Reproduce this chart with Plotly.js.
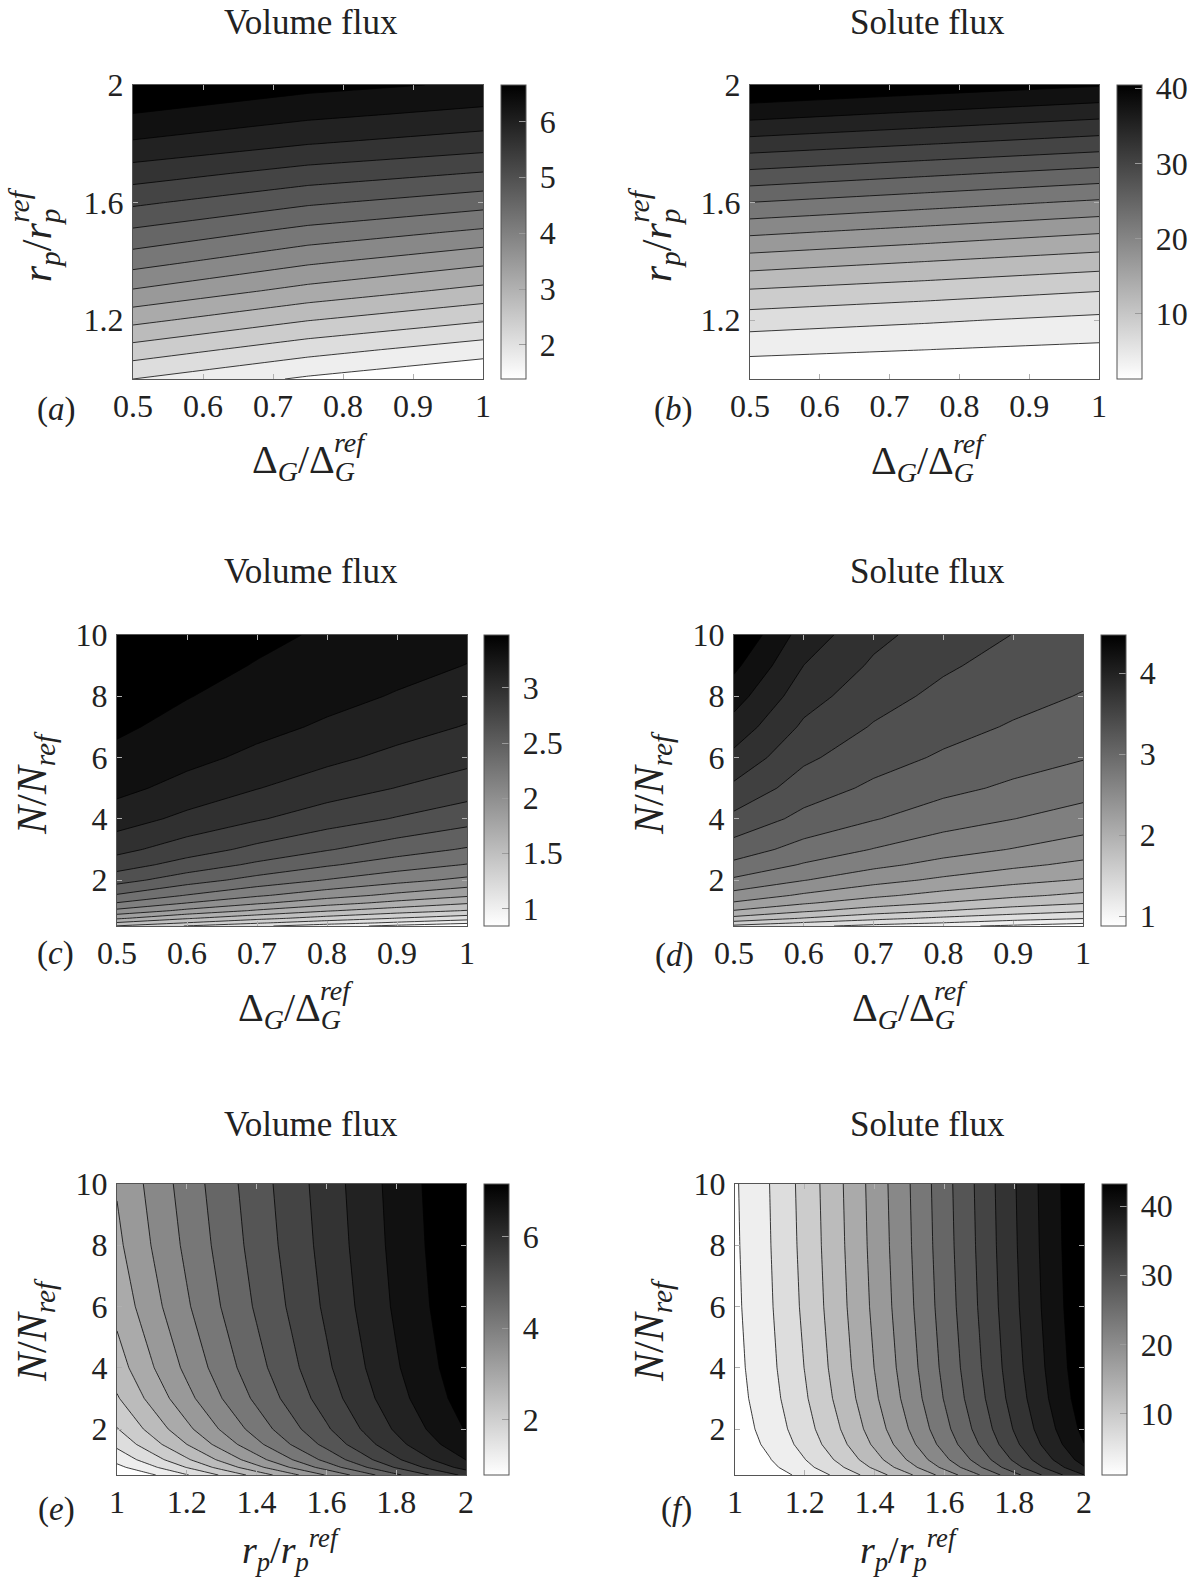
<!DOCTYPE html>
<html>
<head>
<meta charset="utf-8">
<script src="https://cdn.plot.ly/plotly-3.0.1.min.js"></script>
<style>
html,body{margin:0;padding:0;background:#fff;}
#chart{width:1199px;height:1580px;}
</style>
</head>
<body>
<div id="chart"></div>
<script>
// ---------------- DATA (values estimated from the reference figure) ----------------
// (a) Volume flux, (b) Solute flux : x = Delta_G/Delta_G^ref, y = r_p/r_p^ref
const dgAB = [0.5, 0.75, 1.0];
const rpAB = [1.0, 1.1, 1.2, 1.3, 1.4, 1.5, 1.6, 1.7, 1.8, 1.9, 2.0];
const volA = [
  [2.04, 1.66, 1.38],
  [2.57, 2.17, 1.86],
  [3.12, 2.71, 2.40],
  [3.66, 3.25, 2.93],
  [4.16, 3.75, 3.44],
  [4.62, 4.24, 3.96],
  [5.07, 4.73, 4.48],
  [5.51, 5.21, 4.99],
  [5.95, 5.68, 5.49],
  [6.32, 6.08, 5.90],
  [6.65, 6.43, 6.28]
];
const solB = [
  [1.9, 1.65, 1.4],
  [4.44, 3.86, 3.28],
  [7.47, 6.58, 5.68],
  [10.94, 9.87, 8.79],
  [14.88, 13.62, 12.36],
  [19.0, 17.63, 16.25],
  [23.32, 21.9, 20.49],
  [27.7, 26.3, 24.9],
  [32.07, 30.78, 29.48],
  [36.41, 35.1, 33.8],
  [40.6, 39.4, 38.2]
];
// (c) Volume flux, (d) Solute flux : x = Delta_G/Delta_G^ref, y = N/N_ref
const dgCD = [0.5, 0.6, 0.7, 0.8, 0.9, 1.0];
const nCD = [0.5, 0.6, 0.75, 1, 1.25, 1.5, 2, 2.5, 3, 4, 5, 6, 7, 8, 9, 10];
const volC = [
  [1.432, 1.278, 1.157, 1.042, 0.93, 0.82],
  [1.576, 1.432, 1.302, 1.195, 1.100, 1.005],
  [1.774, 1.609, 1.486, 1.377, 1.278, 1.195],
  [2.023, 1.867, 1.731, 1.609, 1.515, 1.432],
  [2.208, 2.058, 1.927, 1.810, 1.705, 1.609],
  [2.355, 2.208, 2.081, 1.969, 1.867, 1.774],
  [2.586, 2.440, 2.316, 2.208, 2.111, 2.023],
  [2.754, 2.618, 2.496, 2.388, 2.293, 2.208],
  [2.881, 2.754, 2.640, 2.536, 2.440, 2.355],
  [3.067, 2.950, 2.849, 2.754, 2.669, 2.586],
  [3.187, 3.093, 2.995, 2.908, 2.831, 2.754],
  [3.263, 3.187, 3.111, 3.026, 2.950, 2.881],
  [3.325, 3.252, 3.187, 3.125, 3.049, 2.981],
  [3.376, 3.306, 3.243, 3.187, 3.135, 3.067],
  [3.42, 3.351, 3.292, 3.236, 3.187, 3.142],
  [3.46, 3.391, 3.333, 3.281, 3.231, 3.187]
];
const solD = [
  [1.44, 1.325, 1.212, 1.108, 1.023, 0.92],
  [1.624, 1.466, 1.360, 1.271, 1.171, 1.090],
  [1.849, 1.69, 1.548, 1.445, 1.359, 1.286],
  [2.118, 1.953, 1.815, 1.707, 1.602, 1.521],
  [2.317, 2.151, 2.013, 1.905, 1.799, 1.715],
  [2.475, 2.309, 2.171, 2.056, 1.958, 1.871],
  [2.733, 2.562, 2.416, 2.30, 2.198, 2.113],
  [2.931, 2.749, 2.606, 2.489, 2.386, 2.295],
  [3.093, 2.899, 2.759, 2.637, 2.545, 2.445],
  [3.35, 3.133, 2.993, 2.866, 2.77, 2.676],
  [3.573, 3.301, 3.153, 3.036, 2.943, 2.849],
  [3.775, 3.447, 3.278, 3.166, 3.066, 2.993],
  [3.960, 3.582, 3.389, 3.264, 3.175, 3.087],
  [4.137, 3.708, 3.489, 3.352, 3.255, 3.182],
  [4.306, 3.830, 3.586, 3.436, 3.328, 3.248],
  [4.47, 3.949, 3.677, 3.512, 3.402, 3.312]
];
// (e) Volume flux, (f) Solute flux : x = r_p/r_p^ref, y = N/N_ref
const rpEF = [1.0, 1.1, 1.2, 1.3, 1.4, 1.5, 1.6, 1.7, 1.8, 1.9, 2.0];
const nEF = [0.5, 0.75, 1, 1.5, 2, 3, 4, 6, 8, 10];
const volE = [
  [0.801, 1.150, 1.566, 2.033, 2.538, 3.063, 3.600, 4.147, 4.685, 5.189, 5.656],
  [1.087, 1.516, 2.003, 2.525, 3.064, 3.605, 4.141, 4.677, 5.193, 5.666, 6.101],
  [1.324, 1.803, 2.328, 2.872, 3.419, 3.955, 4.478, 4.995, 5.490, 5.939, 6.351],
  [1.692, 2.225, 2.779, 3.330, 3.867, 4.381, 4.875, 5.360, 5.824, 6.240, 6.622],
  [1.966, 2.519, 3.077, 3.619, 4.137, 4.630, 5.101, 5.564, 6.006, 6.402, 6.766],
  [2.344, 2.903, 3.447, 3.963, 4.449, 4.909, 5.349, 5.784, 6.200, 6.573, 6.917],
  [2.594, 3.142, 3.667, 4.160, 4.623, 5.061, 5.482, 5.900, 6.302, 6.662, 6.995],
  [2.903, 3.425, 3.917, 4.378, 4.812, 5.223, 5.622, 6.021, 6.408, 6.753, 7.075],
  [3.087, 3.586, 4.056, 4.496, 4.911, 5.308, 5.695, 6.084, 6.461, 6.799, 7.115],
  [3.21, 3.69, 4.144, 4.57, 4.973, 5.361, 5.74, 6.122, 6.494, 6.828, 7.14]
];
const solF = [
  [1.079, 2.444, 4.468, 7.107, 10.297, 13.872, 17.872, 22.075, 26.561, 30.972, 35.283],
  [1.420, 3.120, 5.538, 8.569, 12.105, 15.949, 20.153, 24.478, 29.033, 33.444, 37.709],
  [1.687, 3.621, 6.291, 9.551, 13.270, 17.239, 21.525, 25.886, 30.449, 34.836, 39.051],
  [2.077, 4.313, 7.281, 10.787, 14.684, 18.758, 23.099, 27.470, 32.011, 36.345, 40.490],
  [2.348, 4.769, 7.903, 11.533, 15.510, 19.621, 23.976, 28.333, 32.853, 37.152, 41.250],
  [2.701, 5.333, 8.640, 12.391, 16.434, 20.570, 24.923, 29.256, 33.741, 37.996, 42.041],
  [2.920, 5.668, 9.064, 12.869, 16.940, 21.078, 25.424, 29.738, 34.205, 38.430, 42.448],
  [3.178, 6.048, 9.531, 13.386, 17.475, 21.613, 25.946, 30.239, 34.679, 38.876, 42.864],
  [3.325, 6.258, 9.783, 13.660, 17.757, 21.890, 26.216, 30.495, 34.922, 39.103, 43.073],
  [3.42, 6.39, 9.94, 13.83, 17.93, 22.06, 26.38, 30.65, 35.07, 39.24, 43.2]
];
// contour levels [start, end, step] and colour-bar ranges
const levA = [1.71, 6.33, 0.33],   cbRangeA = [1.39, 6.65];
const levB = [3.84, 38.0, 2.44],   cbRangeB = [1.36, 40.4];
const levC = [0.975, 3.30, 0.155], cbRangeC = [0.84, 3.48];
const levD = [1.063, 4.258, 0.213], cbRangeD = [0.88, 4.47];
const levE = [1.196, 6.744, 0.396], cbRangeE = [0.80, 7.14];
const levF = [3.73, 40.55, 2.63],  cbRangeF = [1.10, 43.2];
// tick labels
const dgTicks = [0.5, 0.6, 0.7, 0.8, 0.9, 1];
const dgTickText = ['0.5', '0.6', '0.7', '0.8', '0.9', '1'];
const rpTicksY = [1.2, 1.6, 2];
const rpTicksYText = ['1.2', '1.6', '2'];
const nTicks = [2, 4, 6, 8, 10];
const nTickText = ['2', '4', '6', '8', '10'];
const rpTicksX = [1, 1.2, 1.4, 1.6, 1.8, 2];
const rpTicksXText = ['1', '1.2', '1.4', '1.6', '1.8', '2'];
const cbTicksA = [2, 3, 4, 5, 6];
const cbTicksB = [10, 20, 30, 40];
const cbTicksC = [1, 1.5, 2, 2.5, 3];
const cbTicksD = [1, 2, 3, 4];
const cbTicksE = [2, 4, 6];
const cbTicksF = [10, 20, 30, 40];

// ---------------- LAYOUT / STYLE ----------------
const FONT = 'Liberation Serif, Times New Roman, serif';
const W0 = 1199, H0 = 1580;
const px = v => v / W0, py = v => 1 - v / H0;
const greys = [[0, '#ffffff'], [1, '#000000']];

const panels = [
  {x: dgAB, y: rpAB, z: volA, lev: levA, cr: cbRangeA, ct: cbTicksA, xt: dgTicks, xtt: dgTickText, yt: rpTicksY, ytt: rpTicksYText, xr: [0.5, 1], yr: [1, 2], box: [133, 483, 85, 379], cbx: 501},
  {x: dgAB, y: rpAB, z: solB, lev: levB, cr: cbRangeB, ct: cbTicksB, xt: dgTicks, xtt: dgTickText, yt: rpTicksY, ytt: rpTicksYText, xr: [0.5, 1], yr: [1, 2], box: [750, 1099, 85, 379], cbx: 1117},
  {x: dgCD, y: nCD, z: volC, lev: levC, cr: cbRangeC, ct: cbTicksC, xt: dgTicks, xtt: dgTickText, yt: nTicks, ytt: nTickText, xr: [0.5, 1], yr: [0.5, 10], box: [117, 467, 635, 926], cbx: 484},
  {x: dgCD, y: nCD, z: solD, lev: levD, cr: cbRangeD, ct: cbTicksD, xt: dgTicks, xtt: dgTickText, yt: nTicks, ytt: nTickText, xr: [0.5, 1], yr: [0.5, 10], box: [734, 1083, 635, 926], cbx: 1101},
  {x: rpEF, y: nEF, z: volE, lev: levE, cr: cbRangeE, ct: cbTicksE, xt: rpTicksX, xtt: rpTicksXText, yt: nTicks, ytt: nTickText, xr: [1, 2], yr: [0.5, 10], box: [117, 466, 1184, 1475], cbx: 484},
  {x: rpEF, y: nEF, z: solF, lev: levF, cr: cbRangeF, ct: cbTicksF, xt: rpTicksX, xtt: rpTicksXText, yt: nTicks, ytt: nTickText, xr: [1, 2], yr: [0.5, 10], box: [735, 1084, 1184, 1475], cbx: 1102}
];

const traces = [];
const layout = {
  width: W0, height: H0,
  margin: {l: 0, r: 0, t: 0, b: 0, pad: 0},
  paper_bgcolor: '#ffffff', plot_bgcolor: '#ffffff',
  showlegend: false,
  font: {family: FONT, color: '#222', size: 32},
  annotations: []
};

const axisBase = {
  showline: true, linecolor: '#555', linewidth: 1, mirror: 'ticks',
  ticks: 'inside', ticklen: 5, tickwidth: 1, tickcolor: '#b0b0b0',
  showgrid: false, zeroline: false, tickmode: 'array', fixedrange: true,
  tickfont: {family: FONT, size: 32, color: '#222'}
};

panels.forEach((p, i) => {
  const n = i + 1;
  const xa = n === 1 ? 'x' : 'x' + n, ya = n === 1 ? 'y' : 'y' + n;
  const [x0, x1, y0, y1] = p.box;
  traces.push({
    type: 'heatmap', x: p.x, y: p.y, z: p.z, xaxis: xa, yaxis: ya,
    zmin: p.cr[0], zmax: p.cr[1], colorscale: greys, hoverinfo: 'skip',
    showscale: true,
    colorbar: {
      x: px(p.cbx), xanchor: 'left', xpad: 0, y: py((y0 + y1) / 2), yanchor: 'middle', ypad: 0,
      len: (y1 - y0) / H0, lenmode: 'fraction', thickness: 25, thicknessmode: 'pixels',
      outlinewidth: 1, outlinecolor: '#555', borderwidth: 0,
      tickmode: 'array', tickvals: p.ct, ticktext: p.ct.map(v => '\u2009' + String(v)),
      ticks: 'inside', ticklen: 7, tickwidth: 1, tickcolor: '#9a9a9a',
      tickfont: {family: FONT, size: 32, color: '#222'}
    }
  });
  traces.push({
    type: 'contour', x: p.x, y: p.y, z: p.z, xaxis: xa, yaxis: ya,
    autocontour: false,
    contours: {start: p.lev[0], end: p.lev[1], size: p.lev[2], coloring: 'fill', showlines: true},
    line: {color: 'rgba(0,0,0,0.85)', width: 0.9, smoothing: 0},
    colorscale: greys, showscale: false, hoverinfo: 'skip'
  });
  layout[n === 1 ? 'xaxis' : 'xaxis' + n] = Object.assign({}, axisBase, {
    domain: [px(x0), px(x1)], range: p.xr, tickvals: p.xt, ticktext: p.xtt, anchor: ya,
    ticklabelstandoff: -1
  });
  layout[n === 1 ? 'yaxis' : 'yaxis' + n] = Object.assign({}, axisBase, {
    domain: [py(y1), py(y0)], range: p.yr, tickvals: p.yt, ticktext: p.ytt, anchor: xa,
    ticklabelstandoff: 2
  });
});

// ---------------- TEXT ----------------
const cv = document.createElement('canvas').getContext('2d');
function tw(s, size, italic) {
  cv.font = (italic ? 'italic ' : '') + size + 'px "Liberation Serif"';
  return cv.measureText(s).width;
}
function ann(text, x, y, size, opts) {
  return Object.assign({
    text: text, x: px(x), y: py(y), xref: 'paper', yref: 'paper', showarrow: false,
    font: {family: FONT, size: size, color: '#222'}, xanchor: 'center', yanchor: 'middle', borderpad: 0
  }, opts || {});
}
// "big_sub / big_sub^ref" with the last sub- and superscript stacked
function stacked(xc, yc, big, bigItalic, sub, rotated, F) {
  const s = 0.7 * F;
  const bigHtml = bigItalic ? '<i>' + big + '</i>' : big;
  const wb = tw(big, F, bigItalic), ws = tw('/', F, false), wsub = tw(sub, s, true), wref = tw('ref', s, true);
  const W = 2 * wb + ws + 2 * wsub;
  const total = W - wsub + Math.max(wsub, wref);
  const mainTxt = bigHtml + '<sub><i>' + sub + '</i></sub>/' + bigHtml + '<sub><i>' + sub + '</i></sub>';
  if (!rotated) {
    const x0 = xc - total / 2;
    return [
      ann(mainTxt, x0, yc, F, {xanchor: 'left'}),
      ann('<i>ref</i>', x0 + W - wsub, yc - 0.48 * F, s, {xanchor: 'left'})
    ];
  }
  const yb = yc + total / 2;
  return [
    ann(mainTxt, xc, yb, F, {yanchor: 'bottom', textangle: -90}),
    ann('<i>ref</i>', xc - 0.5 * F, yb - (W - wsub), s, {yanchor: 'bottom', textangle: -90})
  ];
}
const rpTitle = '<i>r</i><sub><i>p</i></sub>/<i>r</i><sub><i>p</i></sub><sup><i>ref</i></sup>';

const A = layout.annotations;
// panel titles
A.push(ann('Volume flux', 311, 23, 35));
A.push(ann('Solute flux', 927, 23, 35));
A.push(ann('Volume flux', 311, 572, 35));
A.push(ann('Solute flux', 927, 572, 35));
A.push(ann('Volume flux', 311, 1124, 35));
A.push(ann('Solute flux', 927, 1124, 35));
// panel letters
A.push(ann('(<i>a</i>)', 56, 409, 33));
A.push(ann('(<i>b</i>)', 673, 409, 33));
A.push(ann('(<i>c</i>)', 55, 953, 33));
A.push(ann('(<i>d</i>)', 674, 955, 33));
A.push(ann('(<i>e</i>)', 56, 1509, 33));
A.push(ann('(<i>f</i>)', 676, 1509, 33));
// x-axis titles
A.push(...stacked(307, 462, 'Δ', false, 'G', false, 40));
A.push(...stacked(926, 463, 'Δ', false, 'G', false, 40));
A.push(...stacked(293, 1010, 'Δ', false, 'G', false, 40));
A.push(...stacked(907, 1010, 'Δ', false, 'G', false, 40));
A.push(ann(rpTitle, 291, 1550, 38));
A.push(ann(rpTitle, 909, 1550, 38));
// y-axis titles
A.push(...stacked(40, 238, 'r', true, 'p', true, 42));
A.push(...stacked(660, 238, 'r', true, 'p', true, 42));
A.push(ann('<i>N</i>/<i>N</i><sub><i>ref</i></sub>', 35, 783, 42, {textangle: -90}));
A.push(ann('<i>N</i>/<i>N</i><sub><i>ref</i></sub>', 652, 783, 42, {textangle: -90}));
A.push(ann('<i>N</i>/<i>N</i><sub><i>ref</i></sub>', 35, 1330, 42, {textangle: -90}));
A.push(ann('<i>N</i>/<i>N</i><sub><i>ref</i></sub>', 652, 1330, 42, {textangle: -90}));

Plotly.newPlot('chart', traces, layout, {staticPlot: true, displayModeBar: false});
</script>
</body>
</html>
